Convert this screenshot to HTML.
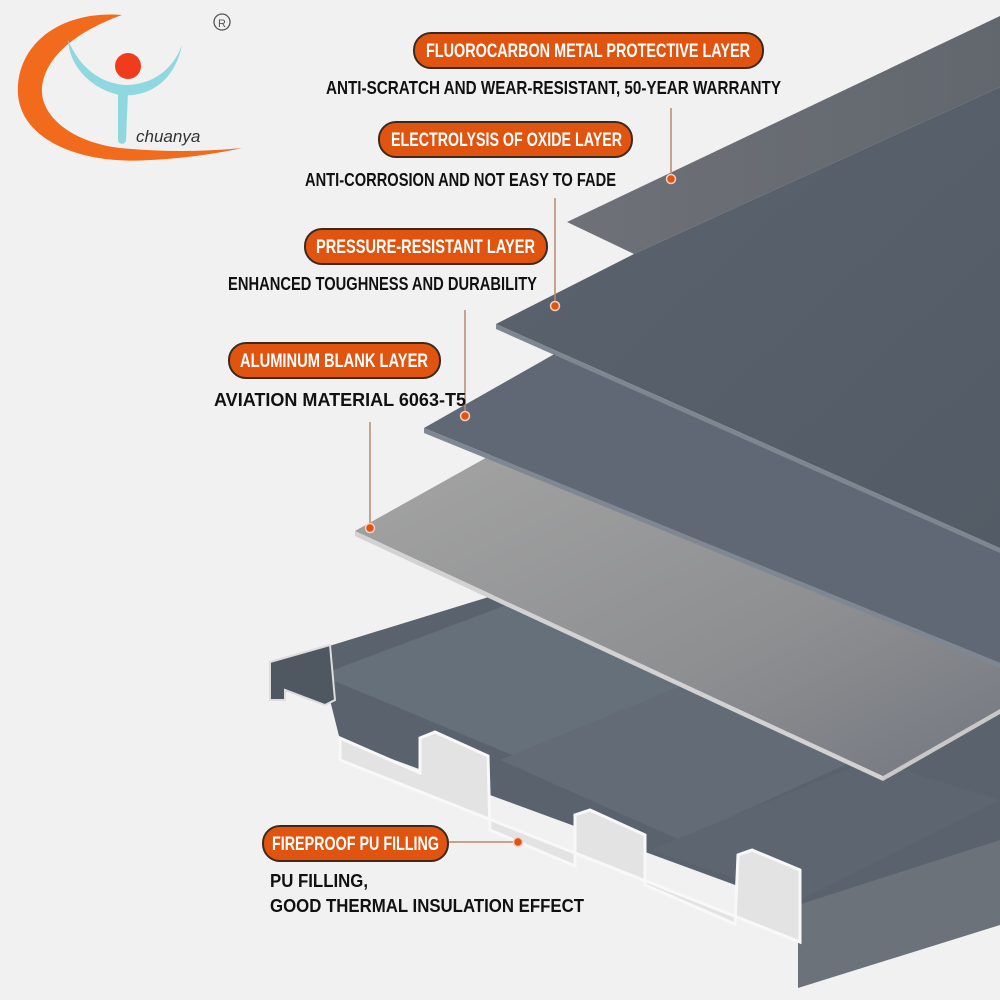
<!DOCTYPE html>
<html><head><meta charset="utf-8"><style>
html,body{margin:0;padding:0;background:#f1f1f1;}
#c{position:relative;width:1000px;height:1000px;overflow:hidden;background:#f1f1f1;}
</style></head><body><div id="c">
<svg width="1000" height="1000" style="position:absolute;left:0;top:0" font-family="Liberation Sans, sans-serif" font-weight="bold">
<defs>
<linearGradient id="g4" x1="0" y1="0" x2="1" y2="1"><stop offset="0" stop-color="#a4a4a4"/><stop offset="0.6" stop-color="#8e8f91"/><stop offset="1" stop-color="#737880"/></linearGradient>
<linearGradient id="g1" x1="0" y1="0" x2="1" y2="0"><stop offset="0" stop-color="#6e7177"/><stop offset="1" stop-color="#62676e"/></linearGradient>
<linearGradient id="g2" x1="0" y1="0" x2="1" y2="1"><stop offset="0" stop-color="#5a636e"/><stop offset="1" stop-color="#535b66"/></linearGradient>
</defs>
<!-- base dark top -->
<polygon points="270,662 300,655 560,575 1000,700 1000,848 798,908 340,740 330,700 290,690 270,700" fill="#5a626d"/>
<polygon points="320,675 520,600 760,690 560,775" fill="#66707b"/>
<polygon points="500,760 720,670 900,740 680,840" fill="#626b76"/>
<polygon points="650,850 870,760 1000,800 800,900" fill="#5c6570"/>
<polygon points="798,905 1000,840 1000,925 798,988" fill="#6c727a"/>
<polygon points="340,738 420,773 420,738 435,732 488,756 490,830 575,866 575,815 590,810 645,835 645,885 735,924 738,855 752,850 800,870 800,942 340,760" fill="#e3e3e3" stroke="#f8f8f8" stroke-width="3"/>
<polygon points="270,662 330,645 335,700 325,705 285,690 285,700 270,700" fill="#4f5760" stroke="#ddd" stroke-width="2"/>
<!-- sheets (visible regions) -->
<polygon points="567,222 1000,16 1000,87 634,254" fill="url(#g1)"/>
<polygon points="355,531 491,455 1000,663 1000,709 883,776" fill="url(#g4)"/>
<polygon points="355,531 883,776 883,781 355,536" fill="#d2d2d2"/>
<polygon points="883,776 1000,709 1000,714 883,781" fill="#c8c8c8"/>
<polygon points="424,428 558,352 1000,548 1000,663" fill="#5f6874"/>
<polygon points="424,428 1000,663 1000,668 424,433" fill="#7f8792"/>
<polygon points="496,324 634,254 1000,87 1000,548" fill="url(#g2)"/>
<polygon points="496,324 1000,548 1000,553 496,329" fill="#7e8690"/>
<!-- leader lines -->
<g stroke="#b58a70" stroke-width="1.5">
<line x1="671" y1="108" x2="671" y2="178"/>
<line x1="555" y1="198" x2="555" y2="305"/>
<line x1="465" y1="310" x2="465" y2="415"/>
<line x1="370" y1="422" x2="370" y2="528"/>
<line x1="448" y1="842" x2="518" y2="842"/>
</g>
<g fill="#e0540f" stroke="#f5d0c0" stroke-width="1.5">
<circle cx="671" cy="179" r="4.5"/><circle cx="555" cy="306" r="4.5"/><circle cx="465" cy="416" r="4.5"/><circle cx="370" cy="528" r="4.5"/><circle cx="518" cy="842" r="4.5"/>
</g>
<!-- pills -->
<g fill="#e0540f" stroke="#3a2a20" stroke-width="2">
<rect x="414" y="33" width="349" height="35" rx="17"/>
<rect x="379" y="122" width="253" height="35" rx="17"/>
<rect x="305" y="229" width="242" height="35" rx="17"/>
<rect x="229" y="343" width="211" height="35" rx="17"/>
<rect x="263" y="826" width="185" height="35" rx="17"/>
</g>
<g fill="#fff" font-size="19" lengthAdjust="spacingAndGlyphs">
<text x="426" y="57" textLength="324" lengthAdjust="spacingAndGlyphs">FLUOROCARBON METAL PROTECTIVE LAYER</text>
<text x="391" y="146" textLength="231" lengthAdjust="spacingAndGlyphs">ELECTROLYSIS OF OXIDE LAYER</text>
<text x="316" y="253" textLength="219" lengthAdjust="spacingAndGlyphs">PRESSURE-RESISTANT LAYER</text>
<text x="240" y="367" textLength="188" lengthAdjust="spacingAndGlyphs">ALUMINUM BLANK LAYER</text>
<text x="272" y="850" textLength="167" lengthAdjust="spacingAndGlyphs">FIREPROOF PU FILLING</text>
</g>
<g fill="#111" font-size="18">
<text x="326" y="94" textLength="455" lengthAdjust="spacingAndGlyphs">ANTI-SCRATCH AND WEAR-RESISTANT, 50-YEAR WARRANTY</text>
<text x="305" y="186" textLength="311" lengthAdjust="spacingAndGlyphs">ANTI-CORROSION AND NOT EASY TO FADE</text>
<text x="228" y="290" textLength="309" lengthAdjust="spacingAndGlyphs">ENHANCED TOUGHNESS AND DURABILITY</text>
<text x="214" y="406" textLength="252" lengthAdjust="spacingAndGlyphs">AVIATION MATERIAL 6063-T5</text>
<text x="270" y="887" textLength="98" lengthAdjust="spacingAndGlyphs">PU FILLING,</text>
<text x="270" y="912" textLength="314" lengthAdjust="spacingAndGlyphs">GOOD THERMAL INSULATION EFFECT</text>
</g>
<!-- logo -->
<path d="M122,15 C60,10 15,45 18,95 C22,140 80,165 150,160 C190,158 225,152 242,148 C200,152 160,152 120,148 C70,142 40,115 42,88 C45,55 80,30 122,15 Z" fill="#f26a1b"/>
<path d="M68,40 C70,70 95,90 120,95 C150,98 175,80 182,45 C172,72 150,85 125,85 C100,83 80,68 68,40 Z" fill="#8fd8e0"/>
<path d="M118,92 L128,92 L126,140 C126,145 118,145 118,140 Z" fill="#8fd8e0"/>
<circle cx="128" cy="66" r="13" fill="#f03c1c"/>
<text x="136" y="142" font-weight="normal" font-style="italic" font-size="17" fill="#333">chuanya</text>
<circle cx="222" cy="22" r="8" fill="none" stroke="#555" stroke-width="1.3"/>
<text x="218" y="27" font-weight="normal" font-size="11" fill="#555">R</text>
</svg>
</div></body></html>
